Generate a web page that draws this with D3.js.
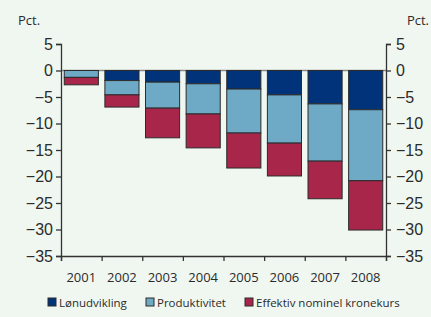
<!DOCTYPE html>
<html>
<head>
<meta charset="utf-8">
<script src="https://cdn.jsdelivr.net/npm/d3@7"></script>
<style>
  body { margin: 0; background: #f0f7f1; }
  svg { display: block; font-family: "Open Sans", sans-serif; }
</style>
</head>
<body>
<div id="chart"></div>
<script>
// data
const years = ["2001", "2002", "2003", "2004", "2005", "2006", "2007", "2008"];
const loen = [0, -1.9, -2.2, -2.5, -3.5, -4.6, -6.3, -7.4];
const prod = [-1.3, -2.7, -4.9, -5.7, -8.3, -9.1, -10.8, -13.4];
const kurs = [-1.4, -2.3, -5.6, -6.4, -6.6, -6.2, -7.1, -9.3];
const seriesNames = ["Lønudvikling", "Produktivitet", "Effektiv nominel kronekurs"];
const yTicks = [5, 0, -5, -10, -15, -20, -25, -30, -35];

const colors = ["#00337a", "#6ea9c6", "#a9264b"];
const W = 431, H = 317;
const margin = {top: 44, right: 45, bottom: 61, left: 61};
const width = W - margin.left - margin.right,
      height = H - margin.top - margin.bottom;

const svg = d3.select("#chart").append("svg")
  .attr("width", W).attr("height", H);
const g = svg.append("g")
  .attr("transform", `translate(${margin.left}, ${margin.top})`);

const x = d3.scaleBand().domain(years).range([0, width]).paddingInner(0.16).paddingOuter(0.08);
const y = d3.scaleLinear().domain([-35, 5]).range([height, 0]);

// stack the three series downwards
const rows = years.map((yr, i) => ({year: yr, vals: [loen[i], prod[i], kurs[i]]}));
rows.forEach(r => {
  let acc = 0;
  r.segs = r.vals.map((v, k) => { const s = {k, y0: acc, y1: acc + v}; acc += v; return s; });
});

// zero line
g.append("line")
  .attr("x1", 0).attr("x2", width)
  .attr("y1", y(0)).attr("y2", y(0))
  .attr("stroke", "#8a8a8a").attr("stroke-width", 1.5);

const bar = g.selectAll(".bar").data(rows).enter().append("g");
bar.selectAll("rect").data(d => d.segs.map(s => Object.assign({year: d.year}, s)))
  .enter().append("rect")
  .attr("x", d => x(d.year))
  .attr("width", x.bandwidth())
  .attr("y", d => y(Math.max(d.y0, d.y1)))
  .attr("height", d => Math.abs(y(d.y0) - y(d.y1)))
  .attr("fill", d => colors[d.k])
  .attr("stroke", "#2b2b2b").attr("stroke-width", 1);

// axes
const axL = g.append("g").call(d3.axisLeft(y).tickValues(yTicks).tickSize(5).tickPadding(3));
const axR = g.append("g").attr("transform", `translate(${width},0)`)
  .call(d3.axisRight(y).tickValues(yTicks).tickSize(5).tickPadding(5));
[axL, axR].forEach(a => {
  a.select(".domain").attr("stroke", "#333").attr("stroke-width", 1.3);
  a.selectAll(".tick line").attr("stroke", "#333").attr("stroke-width", 1.3);
  a.selectAll("text").attr("font-size", 16).attr("fill", "#2b2b2b");
});

// bottom axis: ticks at band boundaries
const xb = d3.scaleLinear().domain([0, years.length]).range([0, width]);
const axB = g.append("g").attr("transform", `translate(0,${height})`)
  .call(d3.axisBottom(xb).ticks(years.length).tickSize(5).tickFormat(""));
axB.select(".domain").attr("stroke", "#333").attr("stroke-width", 1.3);
axB.selectAll(".tick line").attr("stroke", "#333").attr("stroke-width", 1.3);
g.selectAll(".year").data(years).enter().append("text")
  .attr("x", d => x(d) + x.bandwidth() / 2)
  .attr("y", height + 26)
  .attr("text-anchor", "middle")
  .attr("font-size", 13).attr("fill", "#2b2b2b")
  .text(d => d);

// unit labels
svg.append("text").attr("x", 18).attr("y", 25).attr("font-size", 13).attr("fill", "#2b2b2b").text("Pct.");
svg.append("text").attr("x", 429).attr("y", 25).attr("text-anchor", "end")
  .attr("font-size", 13).attr("fill", "#2b2b2b").text("Pct.");

// legend
const legX = [48, 146, 245];
const leg = svg.selectAll(".leg").data(seriesNames).enter().append("g")
  .attr("transform", (d, i) => `translate(${legX[i]}, 298)`);
leg.append("rect").attr("width", 8).attr("height", 8)
  .attr("fill", (d, i) => colors[i]).attr("stroke", "#2b2b2b").attr("stroke-width", 1);
leg.append("text").attr("x", 11).attr("y", 8.5)
  .attr("font-size", 11.5).attr("fill", "#2b2b2b").text(d => d);
</script>
</body>
</html>
